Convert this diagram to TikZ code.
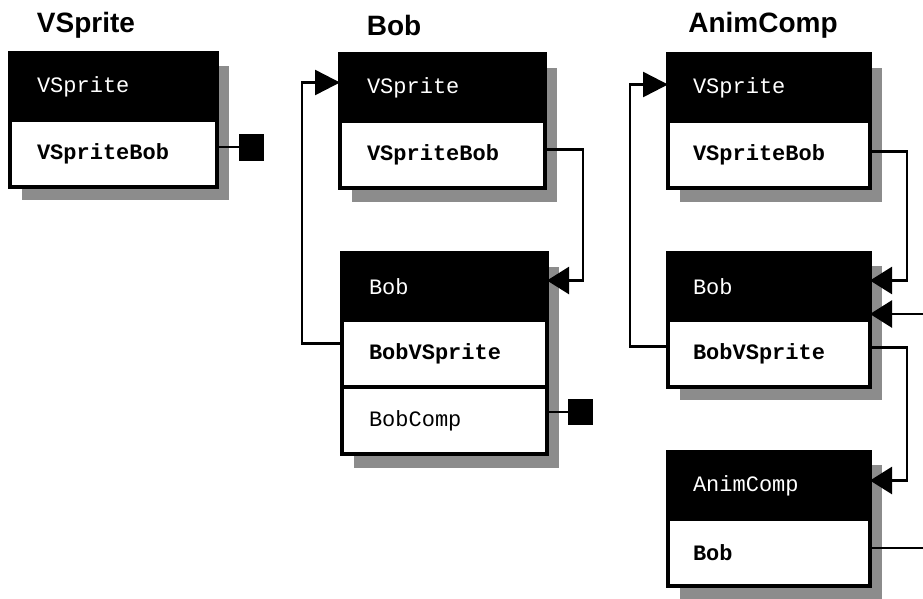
\documentclass[tikz,border=0pt]{standalone}
\usepackage{fontspec}
\setmainfont{Liberation Sans}
\setmonofont{Liberation Mono}
\usetikzlibrary{arrows.meta,backgrounds,calc}
\tikzset{
  base/.style={draw=black, line width=3.5pt, minimum height=67pt, inner xsep=27pt,
    text width=153pt, align=left, anchor=north west, outer sep=0pt, inner ysep=0pt},
  hdr/.style={base, fill=black, text=white, font=\ttfamily\fontsize{22}{24}\selectfont},
  fld/.style={base, fill=white, text=black, font=\ttfamily\bfseries\fontsize{22}{24}\selectfont},
  fldr/.style={fld, font=\ttfamily\fontsize{22}{24}\selectfont},
  wB/.style={text width=151pt},
  wC/.style={inner xsep=25pt, text width=152pt},
  ttl/.style={font=\bfseries\fontsize{28}{30}\selectfont, inner sep=0pt},
  sq/.style={fill=black, draw=none, minimum width=25pt, minimum height=27pt, inner sep=0pt},
  shd/.style={fill=black!45},
  conn/.style={line width=2.5pt},
  arrS/.style={conn, -{Triangle[length=22pt,width=27pt]}},
  arrL/.style={conn, -{Triangle[length=25pt,width=25pt]}},
}
\begin{document}
\begin{tikzpicture}[x=1pt,y=-1pt]
\useasboundingbox (0,0) rectangle (923,598);

% titles
\node[ttl] (tA) at (86,25) {VSprite};
\node[ttl] (tB) at (394,25) {Bob};
\node[ttl] (tC) at (763,25) {AnimComp};

% panel 1
\node[hdr] (ah) at (10,53) {VSprite};
\node[fld] (af) at (ah.south west) {VSpriteBob};
\node[sq] (sqA) at (251.5,147) {};

% panel 2
\node[hdr,wB] (b1h) at (340,54) {VSprite};
\node[fld,wB] (b1f) at (b1h.south west) {VSpriteBob};
\node[hdr,wB] (b2h) at (342,253) {Bob};
\node[fld,wB] (b2f) at (b2h.south west) {BobVSprite};
\node[fldr,wB] (b2g) at (b2f.south west) {BobComp};
\node[sq, minimum height=26pt] (sqB) at (580.5,412) {};

% panel 3
\node[hdr,wC] (c1h) at (668,54) {VSprite};
\node[fld,wC] (c1f) at (c1h.south west) {VSpriteBob};
\node[hdr,wC] (c2h) at (668,253) {Bob};
\node[fld,wC] (c2f) at (c2h.south west) {BobVSprite};
\node[hdr,wC] (c3h) at (668,452) {AnimComp};
\node[fld,wC] (c3f) at (c3h.south west) {Bob};

% background and shadows
\begin{scope}[on background layer]
  \fill[white] (0,0) rectangle (923,598);
  \fill[shd] ($(ah.north west)+(12,13)$) rectangle ($(af.south east)+(12,13)$);
  \fill[shd] ($(b1h.north west)+(12,14)$) rectangle ($(b1f.south east)+(12,14)$);
  \fill[shd] ($(b2h.north west)+(12,14)$) rectangle ($(b2g.south east)+(12,14)$);
  \fill[shd] ($(c1h.north west)+(12,14)$) rectangle ($(c1f.south east)+(12,14)$);
  \fill[shd] ($(c2h.north west)+(12,13)$) rectangle ($(c2f.south east)+(12,13)$);
  \fill[shd] ($(c3h.north west)+(12,13)$) rectangle ($(c3f.south east)+(12,13)$);
\end{scope}

% connectors panel 1
\draw[conn] (af.east |- sqA.west) -- (sqA.west);

% connectors panel 2
\draw[arrL] ([yshift=10pt]b2f.west) -- ++(-40,0) |- ([yshift=5pt]b1h.west);
\draw[arrS] ([yshift=5pt]b1f.east) -- ++(38,0) |- ([yshift=6pt]b2h.east);
\draw[conn] (b2g.east |- sqB.west) -- (sqB.west);

% connectors panel 3
\coordinate (eC) at (930,314);
\coordinate (eD) at (930,548);
\draw[arrL] ([yshift=7pt]c2f.west) -- ++(-38,0) |- ([yshift=3pt]c1h.west);
\draw[arrS] ([yshift=3pt]c1f.east) -- ++(37,0) |- ([yshift=6pt]c2h.east);
\draw[arrS] (eC) -- (c2h.east |- eC);
\draw[arrS] ([yshift=6pt]c2f.east) -- ++(37,0) |- ([yshift=5pt]c3h.east);
\draw[conn] (c3f.east |- eD) -- (eD);
\end{tikzpicture}
\end{document}
